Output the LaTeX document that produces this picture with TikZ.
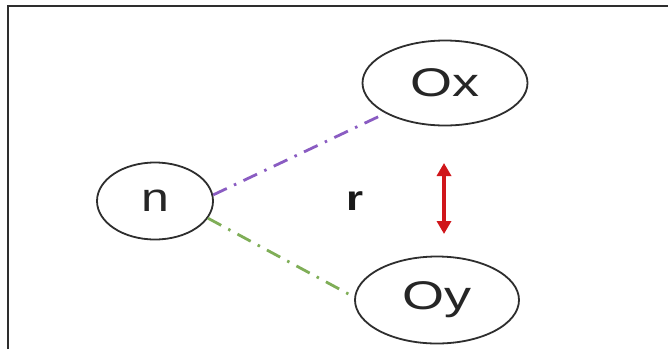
\documentclass[tikz,border=0pt]{standalone}
\usepackage{fontspec}
\setmainfont{Liberation Sans}
\usetikzlibrary{arrows.meta,shapes.geometric}
\definecolor{edgegray}{HTML}{2E2E2E}
\definecolor{linkpurple}{HTML}{8A5CC2}
\definecolor{linkgreen}{HTML}{7FAE57}
\definecolor{arrowred}{HTML}{D0161B}
\begin{document}
\begin{tikzpicture}[x=1pt,y=-1pt,
  entity/.style={draw=edgegray,line width=1.8pt,ellipse,inner sep=0pt,text=black!85},
  bigtext/.style={font=\fontsize{40}{40}\selectfont},
  link/.style={line width=2.8pt,dash pattern=on 15pt off 8pt on 2.5pt off 8pt}]
\useasboundingbox (0,0) rectangle (668,349);
\fill[white] (0,0) rectangle (668,349);
\coordinate (tl) at (8,6);
\coordinate (tr) at (668,6);
\coordinate (bl) at (8,349);
\draw[edgegray,line width=2pt] (bl) -- (tl) -- (tr);
\node[entity,minimum width=116pt,minimum height=77pt,bigtext] (n) at (155,201) {\raisebox{-1pt}{\scalebox{1.25}[1]{n}}};
\node[entity,minimum width=165pt,minimum height=85pt,bigtext] (ox) at (445,83) {\scalebox{1.35}[1]{Ox}};
\node[entity,minimum width=164pt,minimum height=87pt,bigtext] (oy) at (437,300) {\scalebox{1.35}[1]{Oy}};
\node[font=\fontsize{35}{35}\selectfont\bfseries,text=black!90] (r) at (355,201) {\scalebox{1.25}[1]{r}};
\coordinate (a1) at (444,163);
\coordinate (a2) at (444,234);
\draw[link,linkpurple] (n.6) -- (ox.207);
\draw[link,linkgreen] (n.-18) -- (oy.178);
\draw[arrowred,line width=4pt,{Triangle[length=13pt,width=14pt]}-{Triangle[length=13pt,width=14pt]}] (a1) -- (a2);
\end{tikzpicture}
\end{document}
